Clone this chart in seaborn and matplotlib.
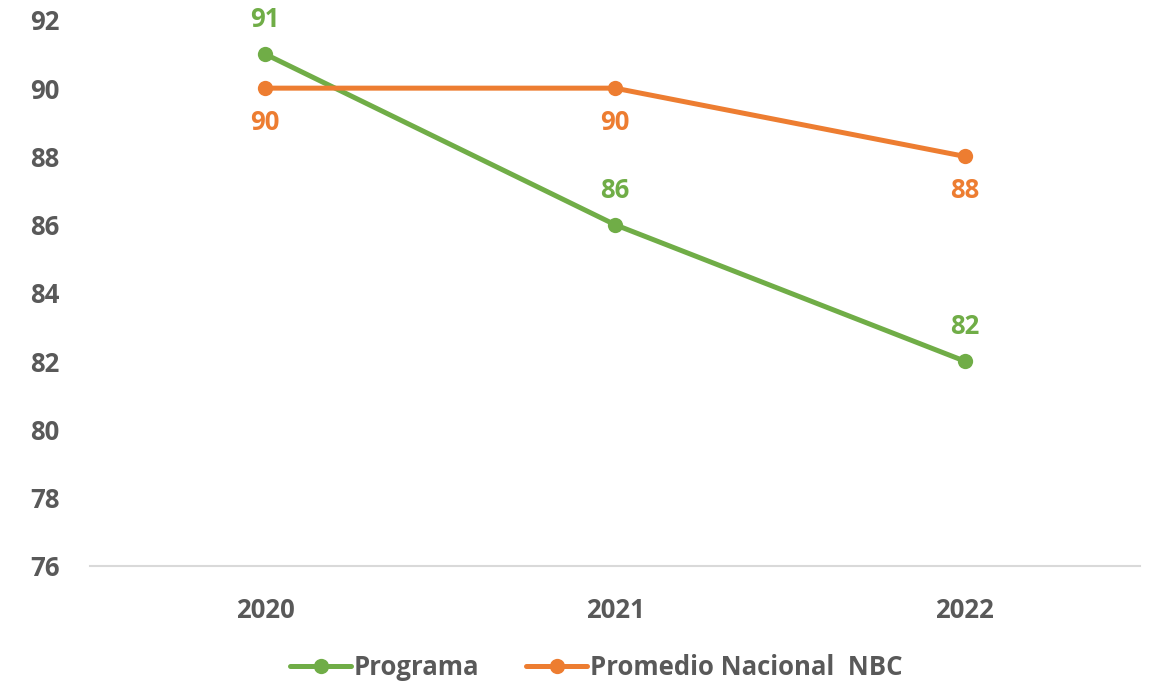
import pandas as pd
import seaborn as sns
import matplotlib.pyplot as plt

# data
years = ['2020', '2021', '2022']
programa = [91, 86, 82]
promedio_nbc = [90, 90, 88]
series_names = ['Programa', 'Promedio Nacional  NBC']
colors = ['#70AD47', '#ED7D31']
y_ticks = [76, 78, 80, 82, 84, 86, 88, 90, 92]

df = pd.DataFrame({
    'year': years * 2,
    'value': programa + promedio_nbc,
    'serie': [series_names[0]] * 3 + [series_names[1]] * 3,
})

sns.set_style('white')
plt.rcParams['font.family'] = ['Open Sans', 'DejaVu Sans']
grey = '#595959'

fig = plt.figure(figsize=(11.56, 6.86), dpi=100)
ax = fig.add_axes([0.078, 0.175, 0.908, 0.796])

sns.lineplot(data=df, x='year', y='value', hue='serie', palette=colors,
             marker='o', markersize=11, markeredgewidth=0, linewidth=3.6,
             sort=False, ax=ax)

# value labels: green above, orange below
for i, v in enumerate(programa):
    ax.annotate(str(v), (i, v), xytext=(0, 15), textcoords='offset points',
                ha='center', va='bottom', color=colors[0],
                fontsize=18.5, fontweight='bold')
for i, v in enumerate(promedio_nbc):
    ax.annotate(str(v), (i, v), xytext=(0, -15), textcoords='offset points',
                ha='center', va='top', color=colors[1],
                fontsize=18.5, fontweight='bold')

ax.set_xlim(-0.5, 2.5)
ax.set_ylim(76, 92)
ax.set_yticks(y_ticks)
ax.set_xlabel('')
ax.set_ylabel('')
ax.tick_params(axis='both', length=0, labelsize=18.5, labelcolor=grey)
ax.tick_params(axis='x', pad=22)
ax.tick_params(axis='y', pad=22)
for lbl in ax.get_xticklabels() + ax.get_yticklabels():
    lbl.set_fontweight('bold')

for side in ['top', 'right', 'left']:
    ax.spines[side].set_visible(False)
ax.spines['bottom'].set_color('#D9D9D9')
ax.spines['bottom'].set_linewidth(1.5)
ax.patch.set_alpha(0)

leg = ax.legend(loc='upper center', bbox_to_anchor=(0.482, -0.118), ncol=2,
                frameon=False, fontsize=18.5, handlelength=2.4,
                handletextpad=0.1, columnspacing=1.8)
for t in leg.get_texts():
    t.set_color(grey)
    t.set_fontweight('bold')

fig.savefig('out.png', dpi=100)
